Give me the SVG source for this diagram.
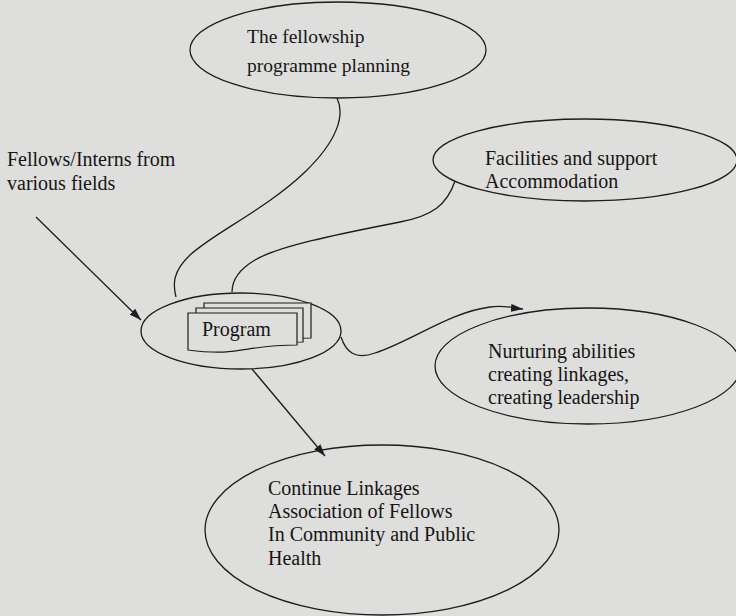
<svg xmlns="http://www.w3.org/2000/svg" width="736" height="616" viewBox="0 0 736 616">
<style>
.bg{fill:#dededc}
.node{fill:none;stroke:#1c1c1c;stroke-width:1.3}
.doc{fill:#dededc;stroke:#1c1c1c;stroke-width:1.2}
.lbl{font-family:"Liberation Serif","Times New Roman",serif;font-size:20px;fill:#151515}
.edge{fill:none;stroke:#1c1c1c;stroke-width:1.3}
</style>
<defs>
<marker id="ah" viewBox="0 0 12 8" refX="12" refY="4" markerWidth="12" markerHeight="8" markerUnits="userSpaceOnUse" orient="auto">
<path d="M0,0 L12,4 L0,8 z" fill="#1c1c1c"/>
</marker>
</defs>
<rect class="bg" x="0" y="0" width="736" height="616"/>

<g id="planning">
<ellipse class="node" cx="338" cy="50" rx="148" ry="48"/>
<text class="lbl" x="247" y="43" style="font-size:19.5px">The fellowship</text>
<text class="lbl" x="247" y="72" style="font-size:19.5px">programme planning</text>
</g>

<g id="fellows">
<text class="lbl" x="7" y="166">Fellows/Interns from</text>
<text class="lbl" x="7" y="190">various fields</text>
</g>

<g id="facilities">
<ellipse class="node" cx="585" cy="160" rx="152" ry="41"/>
<text class="lbl" x="485" y="165">Facilities and support</text>
<text class="lbl" x="485" y="188">Accommodation</text>
</g>

<g id="program">
<ellipse class="node" cx="241" cy="331" rx="100" ry="38"/>
<path class="doc" d="M204,303 H311 V338 C257,338 257,348 204,344 Z"/>
<path class="doc" d="M196,308 H303 V342 C249,342 249,352 196,348 Z"/>
<path class="doc" d="M188,313 H297 V345 C242,345 242,357 188,350 Z"/>
<text class="lbl" x="202" y="336">Program</text>
</g>

<g id="nurturing">
<ellipse class="node" cx="588" cy="366" rx="153" ry="58"/>
<text class="lbl" x="488" y="358">Nurturing abilities</text>
<text class="lbl" x="488" y="381">creating linkages,</text>
<text class="lbl" x="488" y="404">creating leadership</text>
</g>

<g id="linkages">
<ellipse class="node" cx="382" cy="530" rx="177" ry="85"/>
<text class="lbl" x="268" y="495">Continue Linkages</text>
<text class="lbl" x="268" y="518">Association of Fellows</text>
<text class="lbl" x="268" y="541">In Community and Public</text>
<text class="lbl" x="268" y="565">Health</text>
</g>

<g id="connectors">
<path class="edge" d="M36,217 L141,320" marker-end="url(#ah)"/>
<path class="edge" d="M337,98 C345,115 338,140 305,172 C265,210 215,232 190,255 C172,272 173,285 176,297"/>
<path class="edge" d="M455,181 C447,205 432,216 400,222 C350,232 280,245 255,260 C238,270 232,280 232,292"/>
<path class="edge" d="M341,337 C346,352 355,360 375,353 C410,342 450,312 490,307 C505,305 512,308 523,309" marker-end="url(#ah)"/>
<path class="edge" d="M252,369 L325,456" marker-end="url(#ah)"/>
</g>
</svg>
